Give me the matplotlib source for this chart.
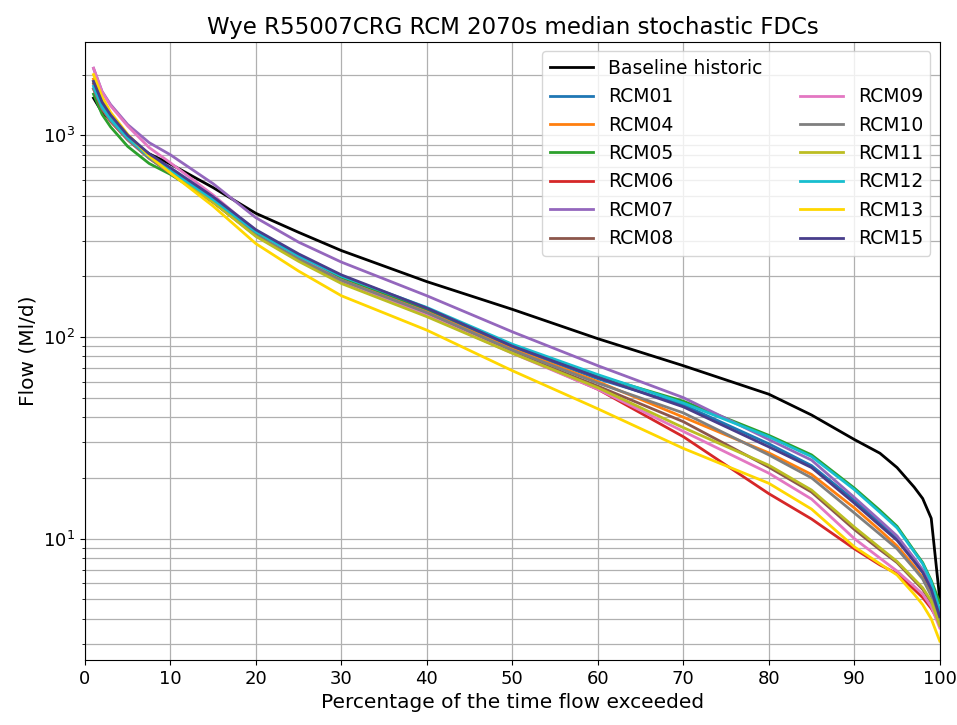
import numpy as np
import matplotlib
matplotlib.use('Agg')
from matplotlib import pyplot as plt

# exceedance percentiles
pct = [1, 2, 3, 5, 7.5, 10, 15, 20, 25, 30, 40, 50, 60, 70, 80, 85, 90, 93, 95, 97, 98, 99, 100]

baseline = [1530, 1300, 1190, 960, 810, 720, 550, 410, 330, 268, 188, 137, 98, 72, 52, 41, 31, 26.5, 22.5, 18, 15.8, 12.6, 5.0]

rcm01 = [1850, 1440, 1240, 990, 795, 670, 478, 328, 250, 197, 136, 89, 62, 46, 29.5, 23, 15.5, 12.0, 10.0, 7.8, 6.8, 5.6, 4.0]
rcm04 = [1900, 1480, 1270, 1000, 800, 670, 476, 322, 245, 192, 133, 87, 60, 40, 26.6, 20.8, 14.2, 11.0, 9.2, 7.3, 6.4, 5.3, 3.9]
rcm05 = [1600, 1270, 1100, 880, 725, 640, 470, 325, 248, 198, 138, 91, 64, 48, 32.5, 26, 17.8, 13.8, 11.5, 8.7, 7.6, 6.2, 4.8]
rcm06 = [1700, 1350, 1170, 950, 770, 650, 465, 318, 242, 188, 128, 84, 55, 32, 16.7, 12.5, 8.9, 7.4, 6.7, 5.6, 5.1, 4.5, 3.8]
rcm07 = [2150, 1650, 1420, 1130, 920, 800, 575, 390, 295, 235, 160, 106, 72, 50, 31, 24.5, 16, 12.3, 10.3, 8.0, 7.0, 5.8, 4.2]
rcm08 = [1800, 1410, 1210, 970, 780, 660, 468, 318, 240, 187, 128, 84, 57, 38, 22.6, 17, 11.1, 8.8, 7.6, 6.2, 5.6, 4.8, 3.8]
rcm09 = [2150, 1640, 1400, 1110, 870, 730, 505, 335, 248, 190, 128, 83, 55, 34, 21.1, 15.7, 10.0, 8.0, 6.9, 5.8, 5.3, 4.6, 3.6]
rcm10 = [1700, 1360, 1180, 950, 770, 650, 466, 320, 244, 191, 132, 86, 59, 42, 26, 20, 13.4, 10.5, 8.9, 7.1, 6.3, 5.2, 3.9]
rcm11 = [1850, 1440, 1240, 985, 790, 660, 466, 315, 237, 184, 126, 83, 56, 35.5, 23.1, 17.4, 11.4, 9.0, 7.7, 6.3, 5.7, 4.9, 3.7]
rcm12 = [1750, 1380, 1200, 970, 785, 670, 480, 332, 252, 200, 140, 92, 65, 47, 32, 25.5, 17.5, 13.5, 11.3, 8.6, 7.5, 6.1, 4.4]
rcm13 = [2000, 1550, 1300, 1010, 790, 650, 445, 290, 212, 160, 108, 68, 44, 28, 18.8, 14, 9.1, 7.5, 6.6, 5.3, 4.7, 4.0, 3.1]
rcm15 = [1850, 1460, 1260, 1000, 810, 690, 495, 340, 258, 203, 139, 90, 63, 45, 28.5, 22.5, 15.0, 11.6, 9.8, 7.7, 6.8, 5.6, 4.1]

names = ['RCM01', 'RCM04', 'RCM05', 'RCM06', 'RCM07', 'RCM08',
         'RCM09', 'RCM10', 'RCM11', 'RCM12', 'RCM13', 'RCM15']
series = [rcm01, rcm04, rcm05, rcm06, rcm07, rcm08,
          rcm09, rcm10, rcm11, rcm12, rcm13, rcm15]
colours = ['tab:blue', 'tab:orange', 'tab:green', 'tab:red', 'tab:purple', 'tab:brown',
           'tab:pink', 'tab:gray', 'tab:olive', 'tab:cyan', 'gold', 'darkslateblue']

fig = plt.figure(figsize=(9.57, 7.25), dpi=100)
ax = fig.add_axes([0.0888, 0.0897, 0.8932, 0.8523])

handles = []
h, = ax.plot(pct, baseline, color='black', lw=2, label='Baseline historic')
handles.append(h)
for name, vals, c in zip(names, series, colours):
    h, = ax.plot(pct, vals, color=c, lw=2, label=name)
    handles.append(h)

ax.set_yscale('log')
ax.set_xlim(0, 100)
ax.set_ylim(2.5, 2900)
ax.set_xticks(np.arange(0, 101, 10))
ax.grid(True, which='both', color='#b0b0b0', lw=0.9)
ax.set_axisbelow(True)
ax.tick_params(labelsize=13)

ax.set_title('Wye R55007CRG RCM 2070s median stochastic FDCs', fontsize=16.5)
ax.set_xlabel('Percentage of the time flow exceeded', fontsize=14.5)
ax.set_ylabel('Flow (Ml/d)', fontsize=14.5)

# blank entry so the second column starts one row down
blank, = ax.plot([], [], color='none', label=' ')
order = handles[:7] + [blank] + handles[7:]
ax.legend(handles=order, labels=[hh.get_label() for hh in order], ncol=2,
          loc='upper right', fontsize=13.5, handlelength=2.3)

plt.savefig('out.png', dpi=100)
